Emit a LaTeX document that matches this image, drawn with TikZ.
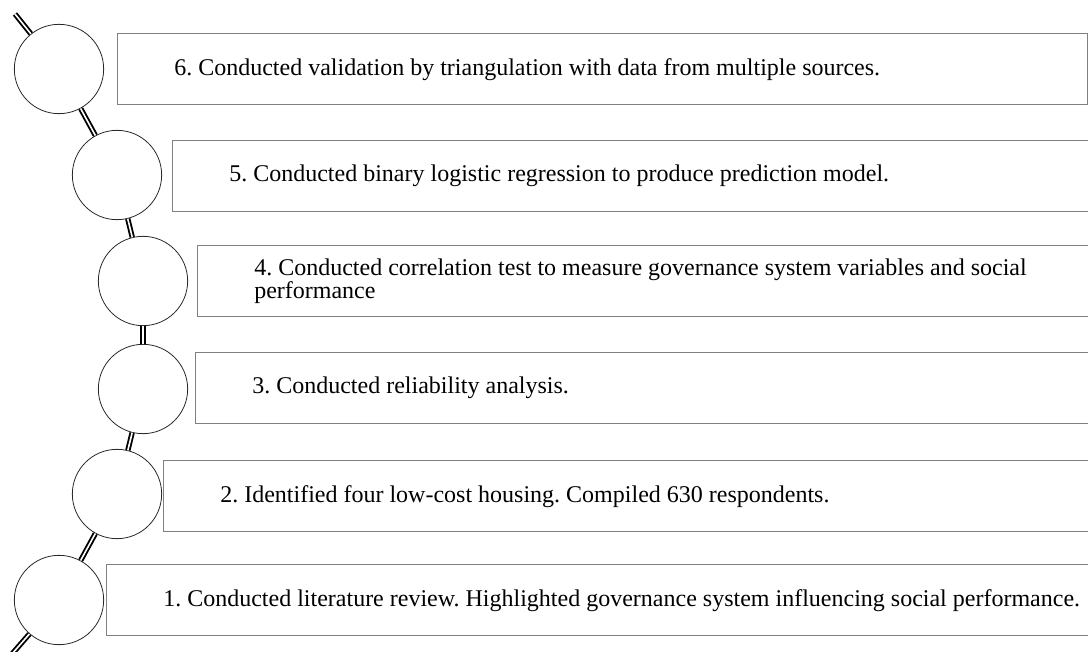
\documentclass[tikz,border=0pt]{standalone}
\usepackage{fontspec}
\setmainfont{Liberation Serif}
\usetikzlibrary{positioning}
\frenchspacing

\begin{document}
\begin{tikzpicture}
  [x=0.75pt,y=-0.75pt,
   every node/.style={font=\fontsize{18}{16.5}\selectfont},
   stage/.style={circle,draw=black!85,line width=0.6pt,fill=white,minimum size=67pt,inner sep=0pt},
   stepbox/.style={rectangle,draw=black!50,line width=1pt,anchor=north west,minimum height=53.25pt,inner sep=0pt},
   steptext/.style={inner sep=0pt,align=left,anchor=west},
   spine/.style={draw=black,line width=1.4pt,double,double distance=1.2pt}]
  \useasboundingbox (0,0) rectangle (1088,652);
  \clip (0,0) rectangle (1088,652);

  \node[stepbox,minimum width=727.5pt] (s6) at (117,33) {};
  \node[stepbox,minimum width=696pt]   (s5) at (172,140) {};
  \node[stepbox,minimum width=677pt]   (s4) at (197,245) {};
  \node[stepbox,minimum width=679pt]   (s3) at (195,352) {};
  \node[stepbox,minimum width=703pt]   (s2) at (163,460) {};
  \node[stepbox,minimum width=745.5pt] (s1) at (106,564) {};

  \node[steptext,right=42.75pt of s6.west] (t6) {6. Conducted validation by triangulation with data from multiple sources.};
  \node[steptext,right=42.75pt of s5.west] (t5) {5. Conducted binary logistic regression to produce prediction model.};
  \node[steptext,right=42.75pt of s4.west] (t4) {4. Conducted correlation test to measure governance system variables and social\\performance};
  \node[steptext,right=42.75pt of s3.west] (t3) {3. Conducted reliability analysis.};
  \node[steptext,right=42.75pt of s2.west] (t2) {2. Identified four low-cost housing. Compiled 630 respondents.};
  \node[steptext,right=42.75pt of s1.west] (t1) {1. Conducted literature review. Highlighted governance system influencing social performance.};

  \node[stage] (c6) at (59,69)  {};
  \node[stage] (c5) at (117,175) {};
  \node[stage] (c4) at (143,281) {};
  \node[stage] (c3) at (143,389) {};
  \node[stage] (c2) at (117,494) {};
  \node[stage] (c1) at (59,600) {};
  \coordinate (top) at (15,14);
  \coordinate (bottom) at (5,662);

  \foreach \from/\to in {top/c6,c6/c5,c5/c4,c4/c3,c3/c2,c2/c1,c1/bottom}
    \draw[spine] (\from) -- (\to);

\end{tikzpicture}
\end{document}
